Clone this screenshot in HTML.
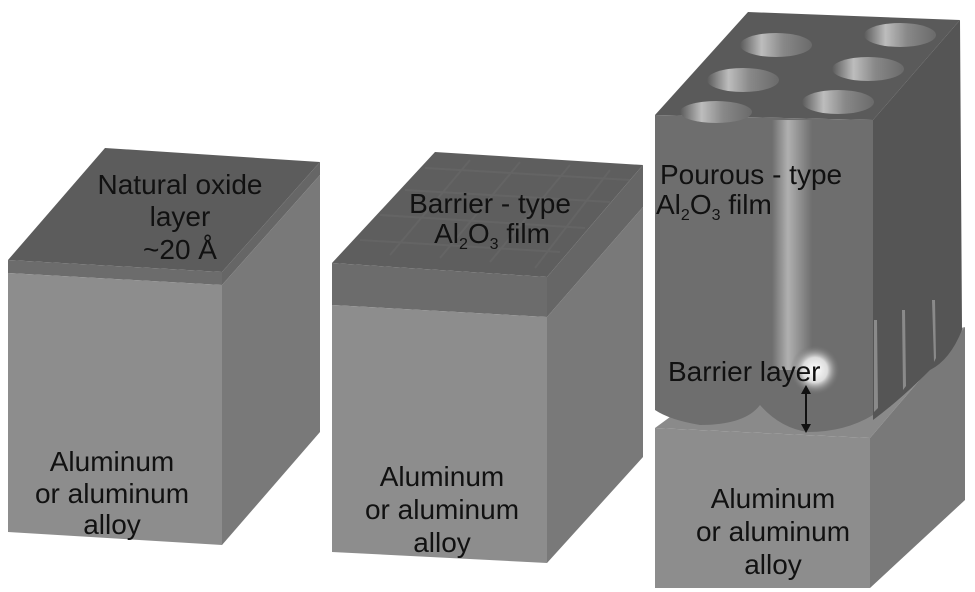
<!DOCTYPE html>
<html><head><meta charset="utf-8"><style>
html,body{margin:0;padding:0;background:#fff;}
svg{display:block;}
text{font-family:"Liberation Sans",sans-serif;font-size:28px;fill:#111;}
</style></head><body>
<svg width="975" height="592" viewBox="0 0 975 592">
<defs>
<linearGradient id="pore" x1="0" x2="1" y1="0" y2="0">
<stop offset="0" stop-color="#5a5a5a"/><stop offset="0.3" stop-color="#bdbdbd"/><stop offset="0.6" stop-color="#888"/><stop offset="1" stop-color="#6a6a6a"/></linearGradient>
<linearGradient id="streak" x1="0" x2="1"><stop offset="0" stop-color="#6e6e6e"/><stop offset="0.4" stop-color="#b0b0b0"/><stop offset="1" stop-color="#6e6e6e"/></linearGradient>
<radialGradient id="glow"><stop offset="0" stop-color="#fff"/><stop offset="0.5" stop-color="#ddd"/><stop offset="1" stop-color="#6e6e6e" stop-opacity="0"/></radialGradient>
</defs>
<!-- Block 1 -->
<polygon points="105,148 320,162 222,272 8,260" fill="#5c5c5c"/>
<polygon points="8,260 222,272 222,285 8,273" fill="#6c6c6c"/>
<polygon points="222,272 320,162 320,175 222,285" fill="#666"/>
<polygon points="8,273 222,285 222,545 8,532" fill="#8d8d8d"/>
<polygon points="222,285 320,175 320,432 222,545" fill="#797979"/>
<text x="180" y="194" text-anchor="middle">Natural oxide</text>
<text x="180" y="226" text-anchor="middle">layer</text>
<text x="180" y="259" text-anchor="middle">~20 Å</text>
<text x="112" y="471" text-anchor="middle">Aluminum</text>
<text x="112" y="503" text-anchor="middle">or aluminum</text>
<text x="112" y="534" text-anchor="middle">alloy</text>
<!-- Block 2 -->
<polygon points="435,152 643,165 547,277 332,263" fill="#5e5e5e"/>
<g stroke="#6a6a6a" stroke-width="2" fill="none" opacity="0.5">
<path d="M360,240 L560,252 M380,215 L585,228 M405,190 L610,202 M425,168 L630,180"/>
<path d="M390,255 L470,160 M440,258 L520,162 M490,262 L570,165 M535,268 L610,170"/>
</g>
<polygon points="332,263 547,277 547,317 332,305" fill="#6c6c6c"/>
<polygon points="547,277 643,165 643,207 547,317" fill="#666"/>
<polygon points="332,305 547,317 547,563 332,552" fill="#8d8d8d"/>
<polygon points="547,317 643,207 643,457 547,563" fill="#797979"/>
<text x="490" y="213" text-anchor="middle">Barrier - type</text>
<text x="492" y="243" text-anchor="middle">Al<tspan font-size="16" dy="6">2</tspan><tspan dy="-6">O</tspan><tspan font-size="16" dy="6">3</tspan><tspan dy="-6"> film</tspan></text>
<text x="442" y="486" text-anchor="middle">Aluminum</text>
<text x="442" y="519" text-anchor="middle">or aluminum</text>
<text x="442" y="552" text-anchor="middle">alloy</text>
<!-- Block 3 slab -->
<polygon points="700,395 965,327 870,438 655,428" fill="#8a8a8a"/>
<polygon points="655,428 870,438 870,588 655,588" fill="#8d8d8d"/>
<polygon points="870,438 965,327 965,500 870,588" fill="#797979"/>
<!-- porous block -->
<polygon points="748,12 960,20 873,120 655,115" fill="#5a5a5a"/>
<path d="M873,120 L960,20 L962,330 Q950,360 930,370 Q900,400 873,420 Z" fill="#555"/>
<path d="M655,115 L873,120 L873,415 Q845,432 808,432 Q780,428 760,405 Q745,425 700,425 Q670,420 655,410 Z" fill="#6e6e6e"/>
<path d="M874,320 L874,412 L878,408 L877,320 Z M902,310 L903,390 L906,386 L905,310Z M932,300 L934,362 L936,358 L935,300Z" fill="#8a8a8a"/>
<rect x="772" y="120" width="40" height="250" fill="url(#streak)"/>
<circle cx="815" cy="370" r="25" fill="url(#glow)"/>
<g>
<ellipse cx="776" cy="45" rx="36" ry="12" fill="url(#pore)"/>
<ellipse cx="900" cy="35" rx="36" ry="12" fill="url(#pore)"/>
<ellipse cx="743" cy="80" rx="36" ry="12" fill="url(#pore)"/>
<ellipse cx="868" cy="69" rx="36" ry="12" fill="url(#pore)"/>
<ellipse cx="716" cy="112" rx="36" ry="11" fill="url(#pore)"/>
<ellipse cx="838" cy="102" rx="36" ry="12" fill="url(#pore)"/>
</g>
<text x="660" y="184">Pourous - type</text>
<text x="656" y="214">Al<tspan font-size="16" dy="6">2</tspan><tspan dy="-6">O</tspan><tspan font-size="16" dy="6">3</tspan><tspan dy="-6"> film</tspan></text>
<text x="668" y="381">Barrier layer</text>
<line x1="806" y1="390" x2="806" y2="428" stroke="#111" stroke-width="2"/>
<polygon points="801,394 811,394 806,385" fill="#111"/>
<polygon points="801,424 811,424 806,433" fill="#111"/>
<text x="773" y="508" text-anchor="middle">Aluminum</text>
<text x="773" y="541" text-anchor="middle">or aluminum</text>
<text x="773" y="574" text-anchor="middle">alloy</text>
</svg>
</body></html>
